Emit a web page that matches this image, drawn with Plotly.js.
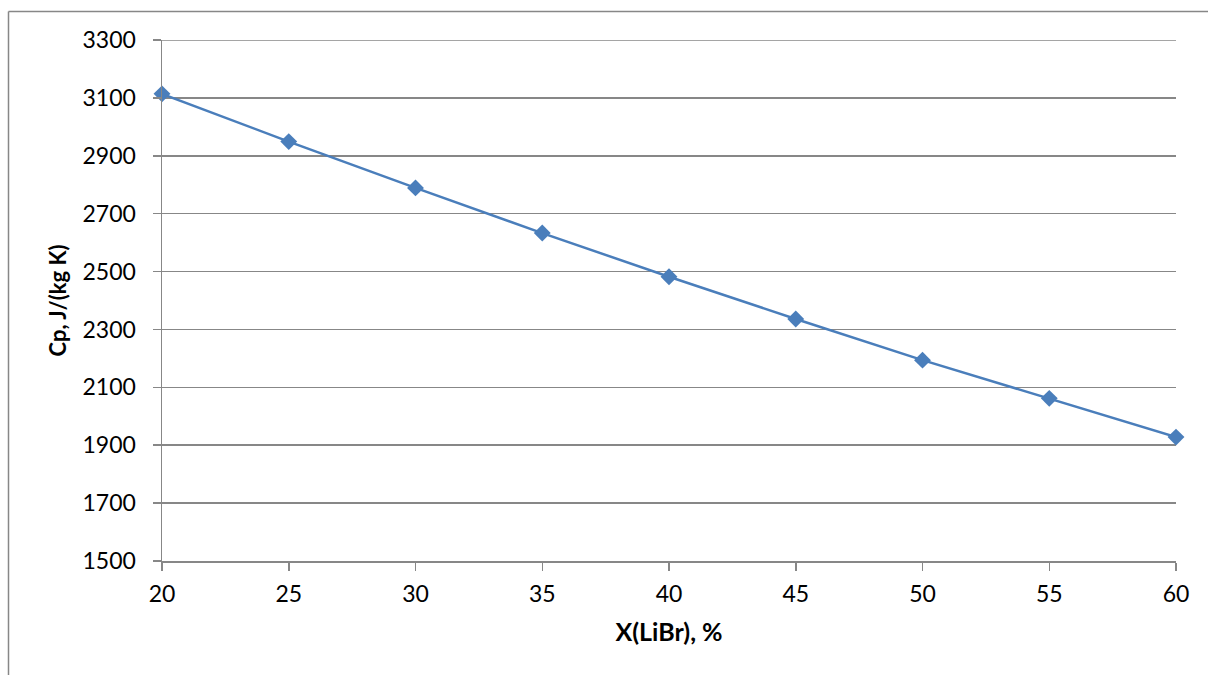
<!DOCTYPE html>
<html>
<head>
<meta charset="utf-8">
<script src="https://cdn.plot.ly/plotly-3.0.1.min.js"></script>
<style>html,body{margin:0;padding:0;background:#fff;overflow:hidden}</style>
</head>
<body>
<div id="chart" style="width:1208px;height:675px"></div>
<script>
const xValues = [20, 25, 30, 35, 40, 45, 50, 55, 60];
const cpValues = [3114, 2949, 2789, 2633, 2482, 2336, 2194, 2062, 1928];
const xTicks = [20, 25, 30, 35, 40, 45, 50, 55, 60];
const yTicks = [1500, 1700, 1900, 2100, 2300, 2500, 2700, 2900, 3100, 3300];

const W = 1208, H = 675;
const m = {l: 162, r: 32, t: 40, b: 114};
const pw = W - m.l - m.r, ph = H - m.t - m.b;
const px = v => (v - m.l) / pw;
const py = v => (H - m.b - v) / ph;

const fontFam = 'Lato, "Open Sans", sans-serif';
const grid = '#878787';

const trace = {
  x: xValues, y: cpValues, type: 'scatter', mode: 'lines+markers',
  line: {color: '#4a7ebb', width: 2.5},
  marker: {symbol: 'diamond', size: 13, color: '#4a7ebb'},
  cliponaxis: false, showlegend: false
};

const layout = {
  width: W, height: H, margin: m,
  paper_bgcolor: '#fff', plot_bgcolor: '#fff',
  font: {family: fontFam, size: 23, color: '#000'},
  xaxis: {
    range: [20, 60], tickvals: xTicks, ticktext: xTicks.map(String),
    showgrid: false, zeroline: false, showline: true, linecolor: grid, linewidth: 1.5,
    ticks: 'outside', ticklen: 8, tickcolor: grid, tickwidth: 1.5, ticklabelstandoff: 4,
    tickfont: {family: fontFam, size: 23}, fixedrange: true,
    title: {text: '<b>X(LiBr), %</b>', font: {family: fontFam, size: 25}, standoff: 17}
  },
  yaxis: {
    range: [1500, 3300], tickvals: yTicks, ticktext: yTicks.map(String),
    showgrid: true, gridcolor: grid, gridwidth: 1.5, zeroline: false,
    showline: true, linecolor: grid, linewidth: 1.5,
    ticks: 'outside', ticklen: 8, tickcolor: grid, tickwidth: 1.5, ticklabelstandoff: 12,
    tickfont: {family: fontFam, size: 23}, fixedrange: true,
    title: {text: '<b>Cp, J/(kg K)</b>', font: {family: fontFam, size: 22}, standoff: 10}
  },
  shapes: [
    {type: 'line', xref: 'paper', yref: 'y', x0: 0, x1: 1, y0: 3300, y1: 3300, line: {color: grid, width: 1.5}},
    {type: 'line', xref: 'paper', yref: 'paper', x0: px(8.5), x1: px(1260), y0: py(11.5), y1: py(11.5), line: {color: grid, width: 1.5}},
    {type: 'line', xref: 'paper', yref: 'paper', x0: px(8.5), x1: px(8.5), y0: py(11.5), y1: py(700), line: {color: grid, width: 1.5}}
  ]
};

Plotly.newPlot('chart', [trace], layout, {displayModeBar: false, staticPlot: true});
</script>
</body>
</html>
